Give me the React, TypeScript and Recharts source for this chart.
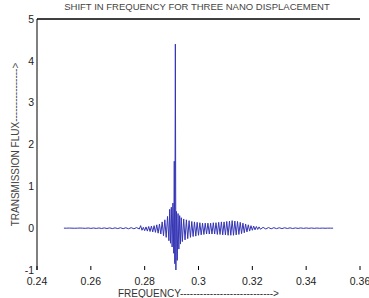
import React from 'react';
import { LineChart, Line, XAxis, YAxis, Label, ReferenceLine } from 'recharts';

const frequency = [
  0.25, 0.251, 0.252, 0.253, 0.254, 0.255, 0.256, 0.257, 0.258, 0.259,
  0.26, 0.261, 0.262, 0.263, 0.264, 0.265, 0.266, 0.267, 0.268, 0.269,
  0.27, 0.271, 0.272, 0.273, 0.274, 0.275, 0.276, 0.277, 0.278, 0.2785,
  0.279, 0.2795, 0.28, 0.2805, 0.281, 0.2815, 0.282, 0.2825, 0.283, 0.2835,
  0.284, 0.2845, 0.285, 0.2855, 0.286, 0.2865, 0.287, 0.2875, 0.288, 0.2885,
  0.289, 0.2893, 0.2896, 0.2899, 0.2902, 0.2905, 0.2908, 0.291, 0.2912, 0.2914,
  0.2916, 0.2918, 0.2921, 0.2924, 0.2927, 0.293, 0.2933, 0.2936, 0.294, 0.2945,
  0.295, 0.2955, 0.296, 0.2965, 0.297, 0.2975, 0.298, 0.2985, 0.299, 0.2995,
  0.3, 0.3005, 0.301, 0.3015, 0.302, 0.3025, 0.303, 0.3035, 0.304, 0.3045,
  0.305, 0.3055, 0.306, 0.3065, 0.307, 0.3075, 0.308, 0.3085, 0.309, 0.3095,
  0.31, 0.3105, 0.311, 0.3115, 0.312, 0.3125, 0.313, 0.3135, 0.314, 0.3145,
  0.315, 0.3155, 0.316, 0.3165, 0.317, 0.3175, 0.318, 0.3185, 0.319, 0.3195,
  0.32, 0.3205, 0.321, 0.3215, 0.322, 0.3225, 0.323, 0.324, 0.325, 0.326,
  0.327, 0.328, 0.329, 0.33, 0.331, 0.332, 0.333, 0.334, 0.335, 0.336,
  0.337, 0.338, 0.339, 0.34, 0.341, 0.342, 0.343, 0.344, 0.345, 0.346,
  0.347, 0.348, 0.349, 0.35,
];

const transmission = [
  0, 0, 0.002, 0, -0.002, 0, 0.003, 0, -0.004, 0.004,
  -0.005, 0.004, -0.006, 0.005, -0.007, 0.006, -0.008, 0.007, -0.01, 0.008,
  -0.01, 0.01, -0.012, 0.01, -0.014, 0.012, -0.015, 0.014, -0.02, 0.06,
  -0.05, 0.02, -0.06, 0.03, -0.07, 0.04, -0.08, 0.05, -0.09, 0.06,
  -0.1, 0.08, -0.12, 0.1, -0.14, 0.15, -0.18, 0.2, -0.22, 0.28,
  -0.3, 0.45, -0.36, 0.5, -0.45, 0.6, -0.6, 1.6, -0.85, 4.4,
  -1.0, 0.4, -0.77, 0.35, -0.5, 0.3, -0.38, 0.25, -0.32, 0.22,
  -0.28, 0.2, -0.25, 0.18, -0.22, 0.16, -0.2, 0.15, -0.19, 0.14,
  -0.17, 0.13, -0.16, 0.12, -0.15, 0.12, -0.14, 0.12, -0.14, 0.12,
  -0.14, 0.13, -0.14, 0.13, -0.15, 0.14, -0.15, 0.15, -0.16, 0.15,
  -0.16, 0.16, -0.17, 0.17, -0.17, 0.18, -0.17, 0.17, -0.16, 0.16,
  -0.15, 0.14, -0.13, 0.12, -0.11, 0.1, -0.09, 0.08, -0.07, 0.06,
  -0.05, 0.05, -0.04, 0.04, -0.03, 0.03, -0.025, 0.02, -0.02, 0.015,
  -0.015, 0.012, -0.012, 0.01, -0.01, 0.01, -0.008, 0.008, -0.008, 0.006,
  -0.006, 0.006, -0.005, 0.005, -0.004, 0.004, -0.004, 0.003, -0.003, 0.002,
  -0.002, 0.001, 0, 0,
];

const xTicks = [0.24, 0.26, 0.28, 0.3, 0.32, 0.34, 0.36];
const xTickLabels = ['0.24', '0.26', '0.28', '0.3', '0.32', '0.34', '0.36'];
const yTicks = [-1, 0, 1, 2, 3, 4, 5];

const title = 'SHIFT IN FREQUENCY FOR THREE NANO DISPLACEMENT';
const xLabel = 'FREQUENCY---------------------------->';
const yLabel = 'TRANSMISSION FLUX---------------->';

const data = frequency.map((f, i) => ({ f, t: transmission[i] }));

const FONT = '"Liberation Sans", Arial, sans-serif';
const TM = 2;

const BottomTick = (props: any) => {
  const { x, y, payload } = props;
  const idx = xTicks.indexOf(payload.value);
  return (
    <g>
      <line x1={x} x2={x} y1={y - TM} y2={y - TM - 4} stroke="#000" />
      <text x={x} y={y} dy={13} textAnchor="middle" fontSize={10.5} fontFamily={FONT} fill="#222">
        {idx >= 0 ? xTickLabels[idx] : String(payload.value)}
      </text>
    </g>
  );
};

export default function App() {
  return (
    <div style={{ position: 'absolute', left: 0, top: 0, width: 369, height: 298, background: '#fff' }}>
      <div
        style={{
          position: 'absolute',
          left: 0,
          top: 1,
          width: 394,
          textAlign: 'center',
          fontFamily: FONT,
          fontSize: 9.5,
          color: '#444',
          whiteSpace: 'nowrap',
          lineHeight: '12px',
        }}
      >
        {title}
      </div>
      <LineChart width={369} height={298} data={data} margin={{ top: 19, right: 9, bottom: 0, left: 0 }}>
        <XAxis
          dataKey="f"
          type="number"
          domain={[0.24, 0.36]}
          ticks={xTicks}
          height={28}
          axisLine={false}
          tickLine={false}
          tickSize={0}
          tickMargin={TM}
          tick={<BottomTick />}
          interval={0}
        >
          <Label
            value={xLabel}
            position="insideBottom"
            offset={1}
            fontSize={10}
            fontFamily={FONT}
            fill="#333"
          />
        </XAxis>
        <XAxis
          xAxisId="top"
          dataKey="f"
          orientation="top"
          type="number"
          domain={[0.24, 0.36]}
          allowDataOverflow
          ticks={xTicks}
          height={1}
          mirror
          tick={false}
          tickSize={3}
          interval={0}
          axisLine={{ stroke: '#000' }}
          tickLine={{ stroke: '#000' }}
        />
        <YAxis
          type="number"
          domain={[-1, 5]}
          ticks={yTicks}
          width={37}
          axisLine={{ stroke: '#000' }}
          tickLine={false}
          tickSize={0}
          tickMargin={3}
          tick={{ fontSize: 10.5, fontFamily: FONT, fill: '#222' }}
          interval={0}
        >
          <Label
            value={yLabel}
            angle={-90}
            position="center"
            dx={-3}
            fontSize={10}
            fontFamily={FONT}
            fill="#444"
          />
        </YAxis>
        <YAxis
          yAxisId="right"
          orientation="right"
          type="number"
          domain={[-1, 5]}
          allowDataOverflow
          ticks={yTicks}
          width={1}
          mirror
          tick={false}
          tickSize={3}
          interval={0}
          axisLine={false}
          tickLine={{ stroke: '#000' }}
        />
        <ReferenceLine y={5} stroke="#000" ifOverflow="visible" />
        <Line
          type="linear"
          dataKey="t"
          stroke="#3535b5"
          strokeWidth={1}
          dot={false}
          isAnimationActive={false}
        />
        <Line
          xAxisId="top"
          yAxisId="right"
          type="linear"
          dataKey="t"
          stroke="none"
          dot={false}
          legendType="none"
          isAnimationActive={false}
        />
      </LineChart>
    </div>
  );
}
